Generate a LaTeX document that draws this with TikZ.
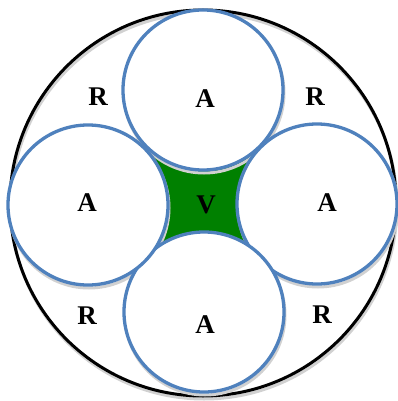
\documentclass[tikz,border=0pt]{standalone}
\usepackage{fontspec}
\setmainfont{Liberation Serif}
\definecolor{ringblue}{RGB}{79,129,189}
\definecolor{coregreen}{RGB}{0,128,0}
\begin{document}
\begin{tikzpicture}[x=1pt,y=-1pt,
  lbl/.style={font=\fontsize{27}{27}\selectfont\bfseries,inner sep=0pt},
  ring/.style={circle,draw=ringblue,line width=3.3pt,fill=white,minimum size=160pt,inner sep=0pt},
  shade/.style={draw=black!18,line width=3pt}]
\useasboundingbox (0,0) rectangle (398,401);
\coordinate (t) at (203,90); \coordinate (r) at (317,204); \coordinate (b) at (204,312); \coordinate (l) at (88,205);
\draw[shade] (204,206) circle (193pt); \draw[line width=3pt] (203,203) circle (193pt);
\fill[coregreen] (t) -- (r) -- (b) -- (l) -- cycle;
\foreach \c in {t,r,b,l}{\draw[shade] ([shift={(1,3)}]\c) circle (80pt);}
\foreach \c in {t,r,b,l}{\node[ring] (ring\c) at (\c) {};}
\foreach \x/\y/\t [count=\i] in {98/97/R,315/97/R,205/99/A,87/203/A,206/205/V,327/203/A,87/316/R,205/325/A,322/315/R}{\node[lbl] (lbl\i) at (\x,\y) {\t};}
\end{tikzpicture}
\end{document}
